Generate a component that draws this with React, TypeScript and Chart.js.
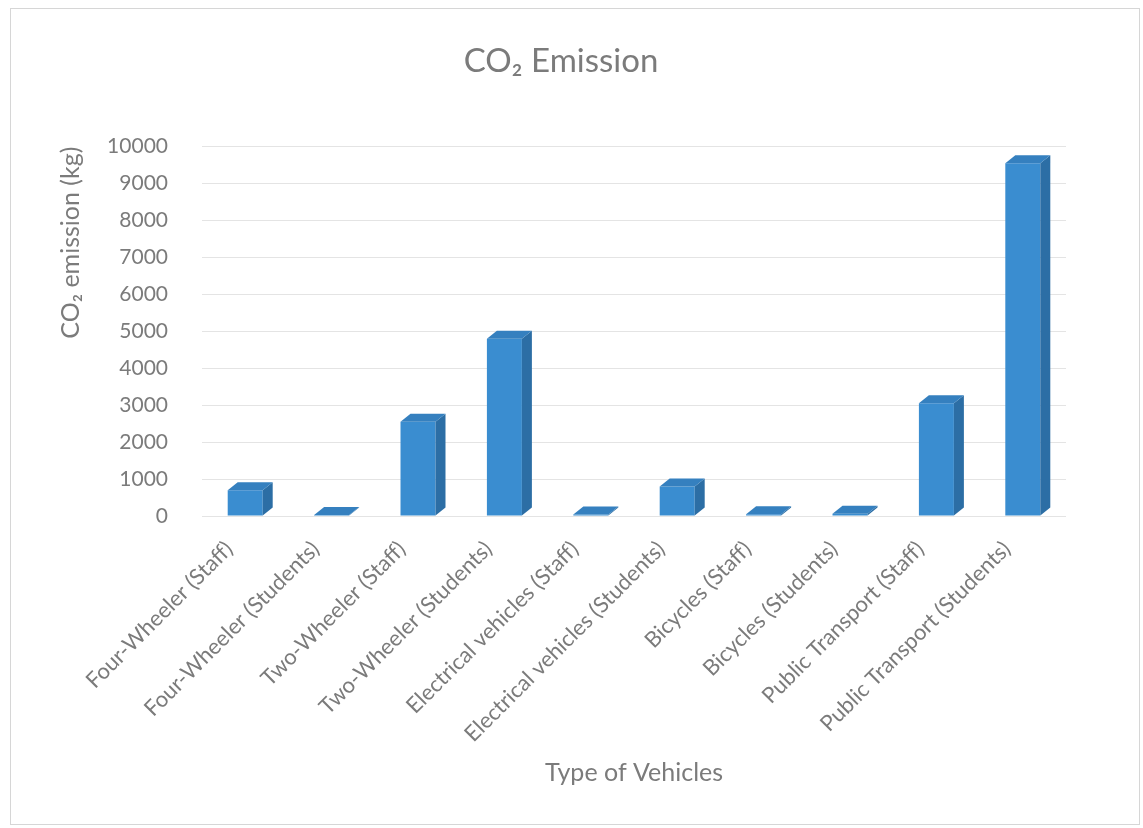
import React, { useEffect, useRef } from "react";
import { Chart, registerables } from "chart.js";

Chart.register(...registerables);

const categories = [
  "Four-Wheeler (Staff)",
  "Four-Wheeler (Students)",
  "Two-Wheeler (Staff)",
  "Two-Wheeler (Students)",
  "Electrical vehicles (Staff)",
  "Electrical vehicles (Students)",
  "Bicycles (Staff)",
  "Bicycles (Students)",
  "Public Transport (Staff)",
  "Public Transport (Students)",
];

const emissions = [700, 30, 2550, 4800, 40, 800, 50, 60, 3050, 9550];

const yTickValues = [0, 1000, 2000, 3000, 4000, 5000, 6000, 7000, 8000, 9000, 10000];

const chartTitle = "CO₂ Emission";
const yTitle = "CO₂ emission (kg)";
const xTitle = "Type of Vehicles";

const FONT = "Lato, 'Open Sans', 'Liberation Sans', sans-serif";
const TEXT = "#7b7b7b";

const framePlugin = {
  id: "frame",
  beforeDraw(chart: any) {
    const ctx = chart.ctx;
    ctx.save();
    ctx.fillStyle = "#ffffff";
    ctx.fillRect(0, 0, chart.width, chart.height);
    ctx.strokeStyle = "#d6d6d6";
    ctx.lineWidth = 1;
    ctx.strokeRect(10.5, 8.5, chart.width - 14, chart.height - 12);
    ctx.restore();
  },
};

const bar3dPlugin = {
  id: "bar3d",
  afterDatasetsDraw(chart: any) {
    const meta = chart.getDatasetMeta(0);
    const ctx = chart.ctx;
    const dx = 10;
    const dy = 8;
    meta.data.forEach((bar: any) => {
      const { x, y, base, width } = bar.getProps(["x", "y", "base", "width"], true);
      const l = x - width / 2;
      const r = x + width / 2;
      ctx.save();
      ctx.fillStyle = "#2c6ea5";
      ctx.beginPath();
      ctx.moveTo(r, y);
      ctx.lineTo(r + dx, y - dy);
      ctx.lineTo(r + dx, base - dy);
      ctx.lineTo(r, base);
      ctx.closePath();
      ctx.fill();
      ctx.fillStyle = "#3580bf";
      ctx.beginPath();
      ctx.moveTo(l, y);
      ctx.lineTo(l + dx, y - dy);
      ctx.lineTo(r + dx, y - dy);
      ctx.lineTo(r, y);
      ctx.closePath();
      ctx.fill();
      ctx.restore();
    });
  },
};

export default function App() {
  const canvasRef = useRef<HTMLCanvasElement | null>(null);

  useEffect(() => {
    document.body.style.margin = "0";
    const canvas = canvasRef.current;
    if (!canvas) return;
    const chart = new Chart(canvas, {
      type: "bar",
      data: {
        labels: categories,
        datasets: [
          {
            label: "CO2 emission (kg)",
            data: emissions,
            backgroundColor: "#3a8dd0",
            borderWidth: 0,
            barPercentage: 0.405,
            categoryPercentage: 1,
          },
        ],
      },
      options: {
        responsive: false,
        animation: false,
        devicePixelRatio: 1,
        layout: { padding: { left: 56, right: 77, top: 18, bottom: 30 } },
        plugins: {
          legend: { display: false },
          tooltip: { enabled: false },
          title: {
            display: true,
            text: chartTitle,
            color: TEXT,
            font: { family: FONT, size: 33, weight: "normal" },
            padding: { top: 24, bottom: 65 },
          },
        },
        scales: {
          x: {
            grid: { display: false },
            border: { display: false },
            ticks: {
              color: TEXT,
              font: { family: FONT, size: 22 },
              minRotation: 45,
              maxRotation: 45,
              autoSkip: false,
              padding: 12,
              labelOffset: -16,
            },
            title: {
              display: true,
              text: xTitle,
              color: TEXT,
              font: { family: FONT, size: 25 },
              padding: { top: 0, bottom: 10 },
            },
            afterFit(scale: any) {
              scale.height = 282;
            },
          },
          y: {
            min: 0,
            max: 10000,
            grid: { color: "#e4e4e4", drawTicks: false },
            border: { display: false },
            afterBuildTicks(scale: any) {
              scale.ticks = yTickValues.map((v) => ({ value: v }));
            },
            ticks: {
              color: TEXT,
              font: { family: FONT, size: 21 },
              padding: 34,
              callback: (v: any) => String(v),
            },
            title: {
              display: true,
              text: yTitle,
              align: "end",
              color: TEXT,
              font: { family: FONT, size: 25 },
              padding: 0,
            },
            afterFit(scale: any) {
              scale.width = 146;
            },
          },
        },
      },
      plugins: [framePlugin, bar3dPlugin],
    });
    return () => chart.destroy();
  }, []);

  return (
    <div style={{ width: 1143, height: 828 }}>
      <canvas ref={canvasRef} width={1143} height={828} style={{ width: 1143, height: 828, display: "block" }} />
    </div>
  );
}
